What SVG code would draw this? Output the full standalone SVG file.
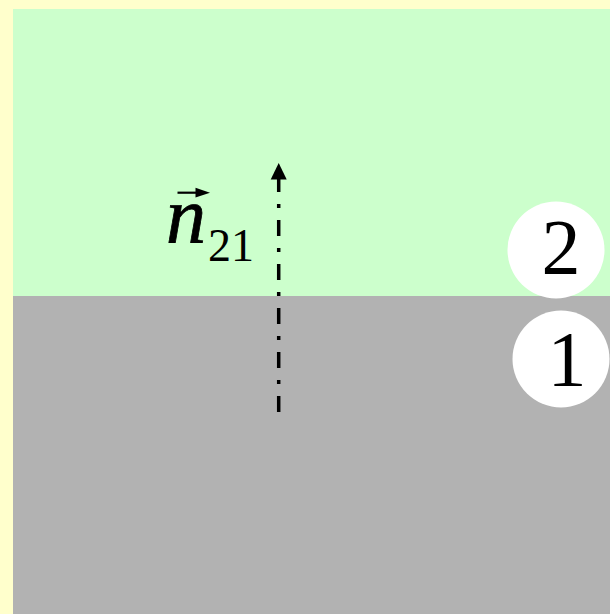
<svg xmlns="http://www.w3.org/2000/svg" width="610" height="614" viewBox="0 0 610 614">
<style>
.num{font-family:"Liberation Serif","Times New Roman",serif;fill:#000}
.bubble{fill:#fff}
</style>
<rect x="0" y="0" width="610" height="614" fill="#FFFFCC"/>
<g id="medium2"><rect x="13" y="9" width="597" height="287" fill="#CCFFCC"/></g>
<g id="medium1"><rect x="13" y="296" width="597" height="318" fill="#B2B2B2"/></g>
<g id="connectors">
<line x1="278.7" y1="412" x2="278.7" y2="178" stroke="#000" stroke-width="3.5" stroke-dasharray="16 12 4 12"/>
<polygon points="278.7,163 270.7,179.5 286.7,179.5" fill="#000"/>
</g>
<g id="label-n21">
<line x1="177.5" y1="192.7" x2="198" y2="192.7" stroke="#000" stroke-width="2.2"/>
<polygon points="210,192.7 195.5,187.8 195.5,197.6" fill="#000"/>
<text class="num" x="166" y="241.7" font-size="80" font-style="italic" stroke="#000" stroke-width="0.8">n</text>
<text class="num" x="208" y="261" font-size="46">21</text>
</g>
<g id="circle2">
<circle class="bubble" cx="556" cy="250" r="48.5"/>
<text class="num" x="561" y="273" font-size="78" text-anchor="middle">2</text>
</g>
<g id="circle1">
<circle class="bubble" cx="561" cy="359" r="48.5"/>
<text class="num" x="567" y="385" font-size="78" text-anchor="middle">1</text>
</g>
</svg>
